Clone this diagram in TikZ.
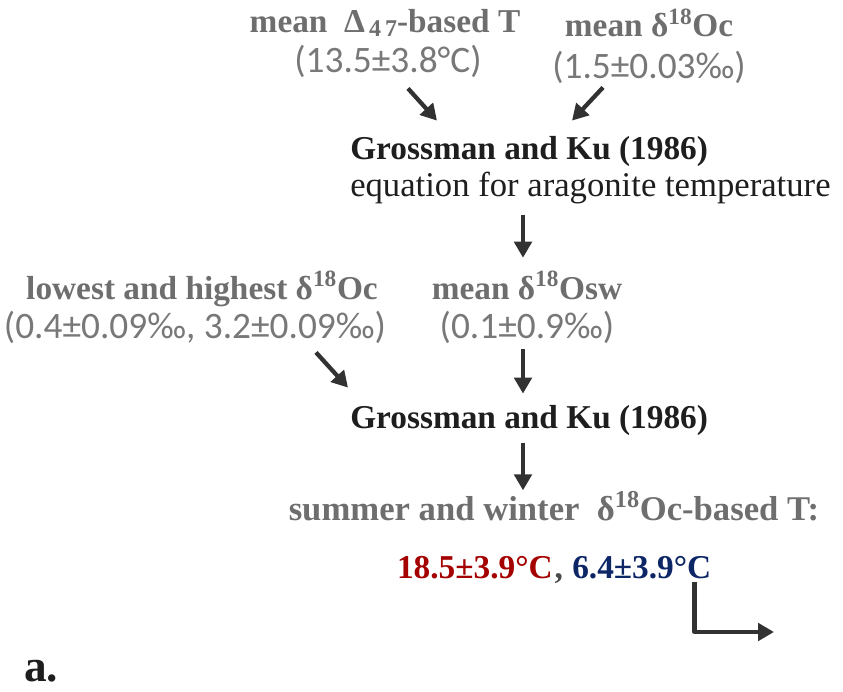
\documentclass[tikz,border=0pt]{standalone}
\usepackage{fontspec}
\setmainfont{Liberation Serif}
\newfontfamily\numfont{Carlito}
\usetikzlibrary{arrows.meta}
\definecolor{hdgray}{RGB}{110,110,110}
\definecolor{numgray}{RGB}{120,120,120}
\definecolor{darktxt}{RGB}{30,30,30}
\definecolor{arrgray}{RGB}{50,50,50}
\definecolor{summerred}{RGB}{165,0,0}
\definecolor{winterblue}{RGB}{12,38,102}
\newcommand{\dO}{δ\textsuperscript{18}O}
\begin{document}
\begin{tikzpicture}[x=0.75pt, y=-0.75pt,
    hd/.style={text=hdgray, font=\fontsize{25}{28}\selectfont\bfseries, inner sep=0pt, anchor=base},
    val/.style={text=numgray, font=\fontsize{28}{30}\selectfont\numfont, inner sep=0pt, anchor=base},
    ref/.style={text=darktxt, font=\fontsize{25}{28}\selectfont\bfseries, inner sep=0pt, anchor=base west},
    arr/.style={draw=arrgray, line width=3.2pt, -{Triangle[length=12pt, width=13pt]}}]
      \useasboundingbox (0, 0) rectangle (843, 692);
      % inputs of the first step
      \node[hd] (dT) at (385, 33) {mean \ Δ\raisebox{-3pt}{\fontsize{18}{18}\selectfont\,4\,7}-based T};
      \node[val] (dTv) at (388, 73) {(13.5±3.8°C)};
      \node[hd] (dOc) at (649, 37) {mean \dO c};
      \node[val] (dOcv) at (649, 79) {(1.5±0.03‰)};
      \node[ref] (gk1) at (350, 160) {Grossman and Ku (1986)};
      \node[ref, font=\fontsize{26}{28}\selectfont] (eq) at (350, 196) {equation for aragonite temperature};
      % inputs of the second step
      \node[hd] (lh) at (202, 299) {lowest and highest \dO c};
      \node[val] (lhv) at (195, 338) {(0.4±0.09‰, 3.2±0.09‰)};
      \node[hd] (sw) at (527, 299) {mean \dO sw};
      \node[val] (swv) at (527, 338) {(0.1±0.9‰)};
      \node[ref] (gk2) at (350, 428) {Grossman and Ku (1986)};
      % result
      \node[hd, font=\fontsize{26}{28}\selectfont\bfseries] (sumwin) at (554, 520) {summer and winter \ \dO c-based T:};
      \node[hd, text=summerred, anchor=base east] (sumT) at (553, 578) {18.5±3.9°C};
      \node[hd, text=darktxt!80, anchor=base west, inner xsep=1pt] (comma) at (sumT.base east) {,};
      \node[hd, text=winterblue, anchor=base west] (winT) at (572, 578) {6.4±3.9°C};
      \node[text=darktxt, font=\fontsize{34}{36}\selectfont\bfseries, inner sep=0pt, anchor=base west] (lbl) at (24, 681) {a.};
      \coordinate (tip) at (774, 632);
      \draw[arr] ([shift={(20,10)}]dTv.south) -- ([shift={(87,-16)}]gk1.north west);
      \draw[arr] ([shift={(-46,3)}]dOcv.south) -- ([shift={(222,-16)}]gk1.north west);
      \draw[arr] ([shift={(173,11)}]eq.south west) -- ++(0, 43);
      \draw[arr] ([shift={(121,9)}]lhv.south) -- ([shift={(-2,-17)}]gk2.north west);
      \draw[arr] ([shift={(-4,6)}]swv.south) -- ([shift={(-4,-11)}]swv.south |- gk2.north);
      \draw[arr] ([shift={(173,8)}]gk2.south west) -- ++(0, 47);
      \draw[arr, line join=round] ([shift={(-17,3)}]winT.south east) |- (tip);
\end{tikzpicture}
\end{document}
